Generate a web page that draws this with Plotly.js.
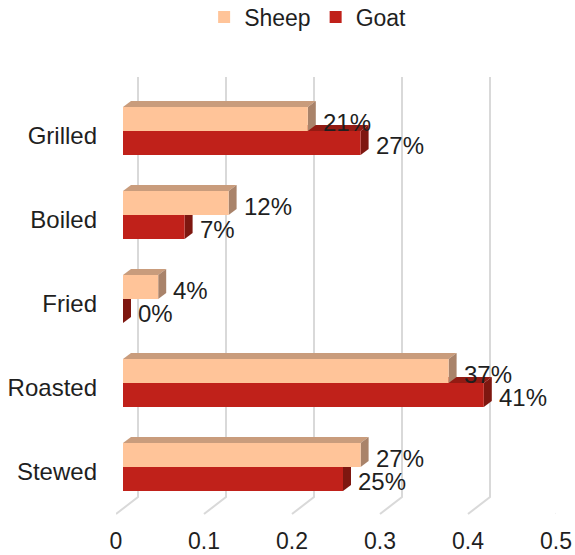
<!DOCTYPE html>
<html>
<head>
<meta charset="utf-8">
<script src="https://cdn.plot.ly/plotly-3.0.1.min.js"></script>
<style>
  html, body { margin: 0; padding: 0; background: #ffffff; }
  #chart { width: 575px; height: 555px; }
</style>
</head>
<body>
<div id="chart"></div>
<script>
// Share of preparation method by meat type
const categories = ['Grilled', 'Boiled', 'Fried', 'Roasted', 'Stewed'];
const sheep = [0.21, 0.12, 0.04, 0.37, 0.27];
const goat  = [0.27, 0.07, 0.00, 0.41, 0.25];
const xTicks = [0, 0.1, 0.2, 0.3, 0.4, 0.5];
const seriesNames = ['Sheep', 'Goat'];

// ---- page geometry (pixels) ----
const W = 575, H = 555;
const plotLeft = 110, plotRight = 575, plotTop = 77, plotBottom = 515;
const plotW = plotRight - plotLeft;
const axisPx = 440;            // pixel length of 0..0.5 on both x axes
const xMax = 0.5;
const floorFront = 116;        // x pixel of 0 on the front edge of the floor
const barFront = 123;          // x pixel of 0 on the bars' front faces
const wallShift = 22;          // back wall offset from floor front edge
const pitch = 84;              // pixels per category
const firstCenter = 131;       // pixel centre of the first category

const kx = xMax / axisPx;      // x data units per pixel
const ky = 1 / pitch;          // y data units per pixel
const yTop = -(firstCenter - plotTop) / pitch;
const yBottom = yTop + (plotBottom - plotTop) / pitch;
const pxToY = p => yTop + (p - plotTop) * ky;

const bargap = 0.43;
const thick = (1 - bargap) / 2;   // one bar's thickness in category units
const dX = 8 * kx, dY = 6 * ky;   // extrusion of the 3D faces

const colors = {
  Sheep: { front: '#FFC499', top: '#C99C7C', side: '#A9836A' },
  Goat:  { front: '#C0211A', top: '#931B13', side: '#7E1710' }
};

const idx = categories.map((_, i) => i);
const values = { Sheep: sheep, Goat: goat };

const traces = seriesNames.map(name => ({
  type: 'bar',
  orientation: 'h',
  name: name,
  x: values[name],
  y: idx,
  xaxis: 'x2',
  yaxis: 'y',
  marker: { color: colors[name].front, line: { width: 0 } },
  hoverinfo: 'x+name'
}));

const shapes = [];

// back wall and floor grid lines
xTicks.forEach(t => {
  const xb = t + wallShift * kx;
  shapes.push({
    type: 'path', xref: 'x', yref: 'y', layer: 'below',
    path: `M${xb},${pxToY(77)} L${xb},${pxToY(497)} L${t},${pxToY(514)}`,
    line: { color: '#D9D9D9', width: 2 }
  });
});

// top and side faces of each bar (goat first so sheep faces overlap it)
['Goat', 'Sheep'].forEach(name => {
  const vals = values[name];
  vals.forEach((v, i) => {
    const top = name === 'Sheep' ? i - thick : i;
    const bot = top + thick;
    shapes.push({
      type: 'path', xref: 'x2', yref: 'y', layer: 'below',
      path: `M0,${top} L${v},${top} L${v + dX},${top - dY} L${dX},${top - dY} Z`,
      fillcolor: colors[name].top, line: { width: 0 }
    });
    shapes.push({
      type: 'path', xref: 'x2', yref: 'y', layer: 'below',
      path: `M${v},${top} L${v},${bot} L${v + dX},${bot - dY} L${v + dX},${top - dY} Z`,
      fillcolor: colors[name].side, line: { width: 0 }
    });
  });
});

// value labels to the right of each bar
const annotations = [];
seriesNames.forEach(name => {
  values[name].forEach((v, i) => {
    const center = name === 'Sheep' ? i - thick / 2 : i + thick / 2;
    annotations.push({
      x: v, y: center, xref: 'x2', yref: 'y',
      text: Math.round(v * 100) + '%',
      showarrow: false, xanchor: 'left', yanchor: 'middle',
      xshift: 13, yshift: -3,
      font: { size: 24, color: '#1F1F1F' }
    });
  });
});

const frac = p => (p - plotLeft) / plotW;

const layout = {
  width: W, height: H,
  margin: { l: plotLeft, r: W - plotRight, t: plotTop, b: H - plotBottom, pad: 0 },
  paper_bgcolor: '#ffffff', plot_bgcolor: 'rgba(0,0,0,0)',
  font: { family: '"Liberation Sans", Arial, sans-serif', size: 24, color: '#1F1F1F' },
  barmode: 'group', bargap: bargap, bargroupgap: 0,
  showlegend: true,
  legend: {
    orientation: 'h', xref: 'container', yref: 'container',
    x: 0.535, xanchor: 'center', y: 1 - 17 / H, yanchor: 'middle',
    font: { size: 23 }, itemclick: false, itemdoubleclick: false
  },
  xaxis: {
    domain: [frac(floorFront), frac(floorFront + axisPx)],
    range: [0, xMax], tickvals: xTicks, ticks: '',
    showgrid: false, zeroline: false, showline: false,
    anchor: 'y', ticklabelstandoff: 10, tickfont: { size: 23 }
  },
  xaxis2: {
    domain: [frac(barFront), frac(barFront + axisPx)],
    range: [0, xMax], visible: false, anchor: 'y'
  },
  yaxis: {
    range: [yBottom, yTop], tickvals: idx, ticktext: categories,
    ticks: '', showgrid: false, zeroline: false, showline: false,
    anchor: 'x', ticklabelstandoff: 18, ticklabelshift: -5,
    tickfont: { size: 24 }
  },
  shapes: shapes,
  annotations: annotations
};

Plotly.newPlot('chart', traces, layout, { displayModeBar: false, staticPlot: true });
</script>
</body>
</html>
